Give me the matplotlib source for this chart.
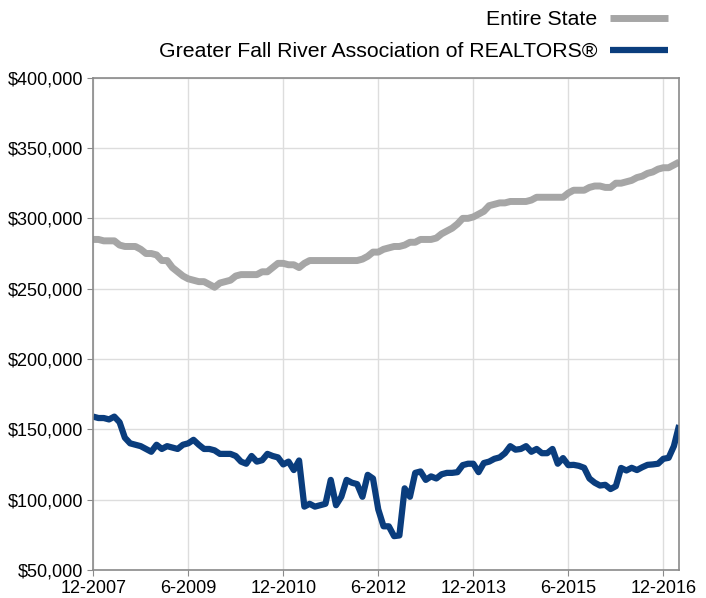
import numpy as np
import matplotlib.pyplot as plt
from matplotlib.ticker import FuncFormatter

# monthly values, 12-2007 .. 3-2017 (in $1000s)
state = [285, 285, 284, 284, 284, 281, 280, 280, 280, 278,
         275, 275, 274, 270, 270, 265, 262, 259, 257, 256,
         255, 255, 253, 251, 254, 255, 256, 259, 260, 260,
         260, 260, 262, 262, 265, 268, 268, 267, 267, 265,
         268, 270, 270, 270, 270, 270, 270, 270, 270, 270,
         270, 271, 273, 276, 276, 278, 279, 280, 280, 281,
         283, 283, 285, 285, 285, 286, 289, 291, 293, 296,
         300, 300, 301, 303, 305, 309, 310, 311, 311, 312,
         312, 312, 312, 313, 315, 315, 315, 315, 315, 315,
         318, 320, 320, 320, 322, 323, 323, 322, 322, 325,
         325, 326, 327, 329, 330, 332, 333, 335, 336, 336,
         338, 340]

fall_river = [159, 158, 158, 157, 159, 155, 144, 140, 139, 138,
              136, 134, 139, 136, 138, 137, 136, 139, 140, 142.5,
              139, 136, 136, 135, 132.5, 132.5, 132.5, 131, 127, 125.5,
              131, 127, 128, 132.5, 131, 130, 125, 127, 121, 127.8,
              95, 97, 95, 96, 97, 114, 96, 102, 114, 112,
              111, 102, 117.6, 115, 93, 81, 81, 74, 74.5, 108,
              102, 119, 120, 114, 116.5, 115, 118, 119, 119, 119.5,
              124.5, 125.5, 125.5, 119.5, 126, 127, 129, 130, 133, 138,
              135.5, 136, 138, 134, 136, 133, 133, 136, 125.5, 129.5,
              124.5, 124.7, 124, 122.6, 115, 112, 110, 110.5, 107.5, 109.5,
              122.5, 120.7, 122.6, 121, 123, 124.7, 125, 125.5, 129, 129.7,
              138, 153]

tick_labels = ['12-2007', '6-2009', '12-2010', '6-2012', '12-2013', '6-2015', '12-2016']

months = np.arange(len(state))
state = np.array(state) * 1000
fall_river = np.array(fall_river) * 1000

plt.rcParams['font.family'] = ['Liberation Sans', 'DejaVu Sans']

fig = plt.figure(figsize=(7.06, 5.98), dpi=100)
ax = fig.add_axes([0.132, 0.047, 0.830, 0.823])

ax.plot(months, state, color='#a6a6a6', lw=5, label='Entire State', solid_capstyle='butt')
ax.plot(months, fall_river, color='#0a3d7d', lw=4.5,
        label='Greater Fall River Association of REALTORS®', solid_capstyle='butt')

ax.set_xlim(0, len(state) - 1)
ax.set_ylim(50000, 400000)
ax.set_xticks(np.arange(0, len(state), 18))
ax.set_xticklabels(tick_labels)
ax.set_yticks(np.arange(50000, 400001, 50000))
ax.yaxis.set_major_formatter(FuncFormatter(lambda v, p: '${:,.0f}'.format(v)))

ax.grid(True, color='#dddddd', lw=1)
ax.set_axisbelow(True)
for s in ax.spines.values():
    s.set_color('#8a8a8a')
    s.set_linewidth(1.2)
ax.tick_params(axis='both', labelsize=13, colors='#8a8a8a', labelcolor='black', length=4)
ax.tick_params(axis='x', pad=3)
ax.tick_params(axis='y', pad=3)

leg = fig.legend(loc='upper right', bbox_to_anchor=(0.958, 0.9967), frameon=False,
                 markerfirst=False, fontsize=15.3, handlelength=2.7,
                 labelspacing=0.6, handletextpad=0.6, borderaxespad=0)

fig.savefig('out.png', dpi=100)
